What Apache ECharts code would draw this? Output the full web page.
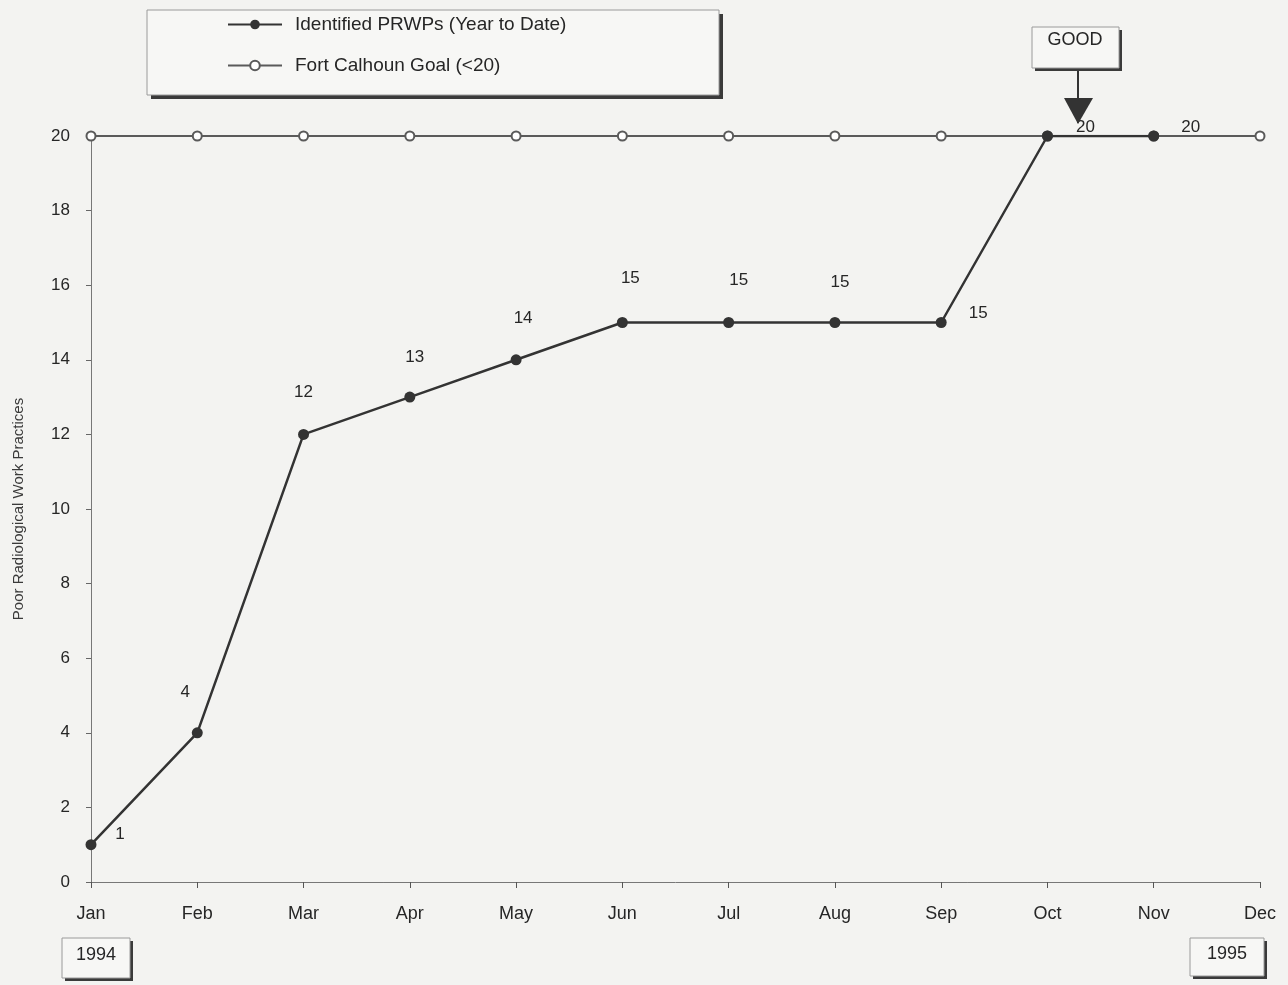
<!DOCTYPE html>
<html>
<head>
<meta charset="utf-8">
<script src="https://cdn.jsdelivr.net/npm/echarts@6/dist/echarts.min.js"></script>
<style>
html,body{margin:0;padding:0;background:#f3f3f1;}
#chart{width:1288px;height:985px;}
</style>
</head>
<body>
<div id="chart"></div>
<script>
const months = ['Jan','Feb','Mar','Apr','May','Jun','Jul','Aug','Sep','Oct','Nov','Dec'];
const prwps = [1, 4, 12, 13, 14, 15, 15, 15, 15, 20, 20, null];
const goal = [20, 20, 20, 20, 20, 20, 20, 20, 20, 20, 20, 20];
const yTicks = [0, 2, 4, 6, 8, 10, 12, 14, 16, 18, 20];

const labelOffsets = [[29,-10],[-12,-40],[0,-42],[5,-40],[7,-41],[8,-44],[10,-42],[5,-40],[37,-9],[38,-9],[37,-9],[0,0]];
const FONT = 'Liberation Sans, Arial, sans-serif';
const INK = '#262626';

const chart = echarts.init(document.getElementById('chart'));

const prwpData = prwps.map((v, i) => ({
  value: v,
  label: { show: v != null, position: 'inside', offset: labelOffsets[i] }
}));

function boxWithShadow(x, y, w, h, sh) {
  return [
    { type: 'rect', shape: { x: x + sh, y: y + sh, width: w, height: h }, style: { fill: '#3a3a3a' }, z: 10 },
    { type: 'rect', shape: { x: x, y: y, width: w, height: h }, style: { fill: '#f7f7f5', stroke: '#9a9a9a', lineWidth: 1 }, z: 11 }
  ];
}

chart.setOption({
  backgroundColor: '#f3f3f1',
  animation: false,
  textStyle: { fontFamily: FONT },
  grid: { left: 91, right: 28, top: 136, bottom: 103, containLabel: false, outerBoundsMode: 'none' },
  xAxis: {
    type: 'category',
    data: months,
    boundaryGap: false,
    axisLine: { lineStyle: { color: '#777', width: 1 } },
    axisTick: { show: true, length: 6, inside: false, lineStyle: { color: '#555' } },
    axisLabel: { color: INK, fontSize: 18, margin: 23, fontFamily: FONT },
    splitLine: { show: false }
  },
  yAxis: {
    type: 'value',
    min: 0, max: 20, interval: 2,
    name: 'Poor Radiological Work Practices',
    nameLocation: 'middle',
    nameGap: 65,
    nameTextStyle: { color: '#3a3a3a', fontSize: 15, fontFamily: FONT },
    axisLine: { show: true, lineStyle: { color: '#777', width: 1 } },
    axisTick: { show: true, length: 5, lineStyle: { color: '#666' } },
    axisLabel: { color: INK, fontSize: 17, margin: 21, fontFamily: FONT,
      formatter: v => yTicks.includes(v) ? String(v) : '' },
    splitLine: { show: false }
  },
  legend: {
    orient: 'vertical',
    left: 222, top: 10,
    itemWidth: 54, itemHeight: 12,
    itemGap: 22,
    textStyle: { color: INK, fontSize: 19, fontFamily: FONT, padding: [0,0,0,8] },
    data: ['Identified PRWPs (Year to Date)', 'Fort Calhoun Goal (<20)'],
    z: 20
  },
  series: [
    {
      name: 'Fort Calhoun Goal (<20)',
      type: 'line',
      data: goal,
      symbol: 'emptyCircle',
      symbolSize: 9,
      lineStyle: { color: '#5a5a5a', width: 2 },
      itemStyle: { color: '#5a5a5a', borderWidth: 1.5 },
      z: 3
    },
    {
      name: 'Identified PRWPs (Year to Date)',
      type: 'line',
      data: prwpData,
      connectNulls: false,
      symbol: 'circle',
      symbolSize: 11,
      lineStyle: { color: '#333', width: 2.5 },
      itemStyle: { color: '#333' },
      label: { color: INK, fontSize: 17, fontFamily: FONT, align: 'center', verticalAlign: 'middle' },
      z: 4
    }
  ],
  graphic: [
    ...boxWithShadow(147, 10, 572, 85, 4),
    ...boxWithShadow(1032, 27, 87, 41, 3),
    { type: 'text', style: { x: 1075, y: 40, text: 'GOOD', fill: INK, font: '18px ' + FONT, align: 'center', verticalAlign: 'middle' }, z: 12 },
    { type: 'line', shape: { x1: 1078, y1: 71, x2: 1078, y2: 100 }, style: { stroke: '#333', lineWidth: 2 }, z: 12 },
    { type: 'polygon', shape: { points: [[1064, 98], [1093, 98], [1078, 124]] }, style: { fill: '#333' }, z: 12 },
    ...boxWithShadow(62, 938, 68, 40, 3),
    { type: 'text', style: { x: 96, y: 955, text: '1994', fill: INK, font: '18px ' + FONT, align: 'center', verticalAlign: 'middle' }, z: 12 },
    ...boxWithShadow(1190, 938, 74, 38, 3),
    { type: 'text', style: { x: 1227, y: 954, text: '1995', fill: INK, font: '18px ' + FONT, align: 'center', verticalAlign: 'middle' }, z: 12 }
  ]
});
</script>
</body>
</html>
